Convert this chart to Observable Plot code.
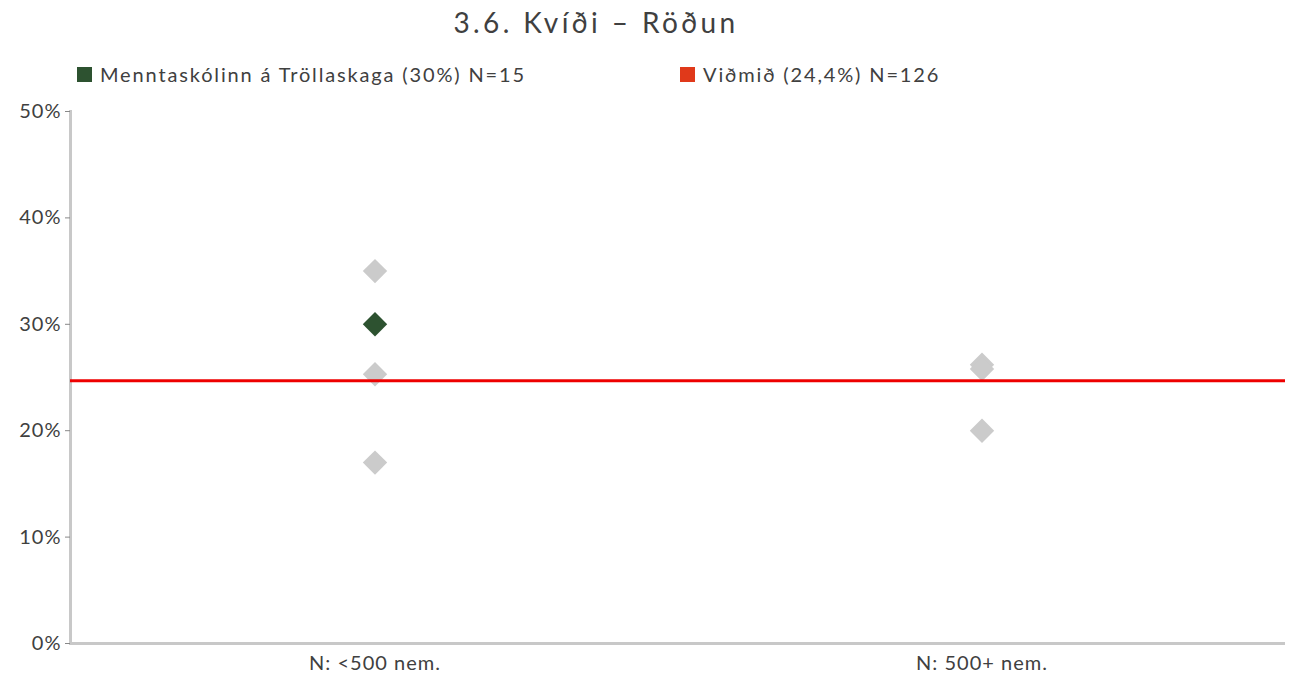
<!DOCTYPE html>
<html>
<head>
<meta charset="utf-8">
<script src="https://cdn.jsdelivr.net/npm/d3@7"></script>
<script src="https://cdn.jsdelivr.net/npm/@observablehq/plot@0.6"></script>
<style>
  body { margin: 0; background: #fff; font-family: Lato, "Open Sans", sans-serif; }
  #title { height: 45px; line-height: 45px; font-size: 28px; color: #404040; text-align: center; padding-right: 100px; letter-spacing: 3.4px; }
  #legend { position: relative; height: 50px; font-size: 20px; color: #404040; letter-spacing: 1.85px; }
  .item { position: absolute; top: 17px; display: flex; align-items: center; }
  .sw { width: 15px; height: 15px; margin-right: 8px; display: inline-block; }
  svg text { letter-spacing: 1px; }
</style>
</head>
<body>
<div id="title">3.6. Kvíði – Röðun</div>
<div id="legend"></div>
<div id="chart"></div>
<script>
const categories = ["N: <500 nem.", "N: 500+ nem."];
const otherCategory = ["N: <500 nem.", "N: <500 nem.", "N: <500 nem.", "N: 500+ nem.", "N: 500+ nem.", "N: 500+ nem."];
const otherValues = [35, 25.3, 17, 26.2, 25.8, 20];
const schoolCategory = ["N: <500 nem."];
const schoolValues = [30];
const benchmark = [24.7];
const yTicks = [0, 10, 20, 30, 40, 50];
const legendLabels = ["Menntaskólinn á Tröllaskaga (30%) N=15", "Viðmið (24,4%) N=126"];
const legendColors = ["#2d5230", "#e0391a"];
const legendX = [77, 680];

const legend = document.getElementById("legend");
legendLabels.forEach((t, i) => {
  const d = document.createElement("div");
  d.className = "item";
  d.style.left = legendX[i] + "px";
  d.innerHTML = `<span class="sw" style="background:${legendColors[i]}"></span><span>${t}</span>`;
  legend.appendChild(d);
});

const others = otherValues.map((v, i) => ({cat: otherCategory[i], v}));
const school = schoolValues.map((v, i) => ({cat: schoolCategory[i], v}));

const chart = Plot.plot({
  width: 1292,
  height: 580,
  marginTop: 16,
  marginBottom: 32,
  marginLeft: 70,
  marginRight: 7,
  style: {fontFamily: "Lato, 'Open Sans', sans-serif", fontSize: "20px", color: "#404040", background: "#fff"},
  x: {type: "band", domain: categories, padding: 0, label: null},
  y: {domain: [0, 50], label: null},
  marks: [
    Plot.frame({anchor: "left", stroke: "#c8c8c8", strokeWidth: 3}),
    Plot.ruleY([0], {stroke: "#c8c8c8", strokeWidth: 3}),
    Plot.axisY({ticks: yTicks, tickFormat: d => d + "%", tickSize: 5, tickPadding: 4, stroke: "#888", fill: "#404040", label: null, fontSize: 20}),
    Plot.axisX({tickSize: 0, tickPadding: 12, fill: "#404040", label: null, fontSize: 20}),
    Plot.dot(others, {x: "cat", y: "v", symbol: "diamond2", r: 11, fill: "#cbcbcb", stroke: "none"}),
    Plot.ruleY(benchmark, {stroke: "#ee0000", strokeWidth: 3}),
    Plot.dot(school, {x: "cat", y: "v", symbol: "diamond2", r: 11, fill: "#2d5230", stroke: "none"})
  ]
});
document.getElementById("chart").appendChild(chart);
</script>
</body>
</html>
